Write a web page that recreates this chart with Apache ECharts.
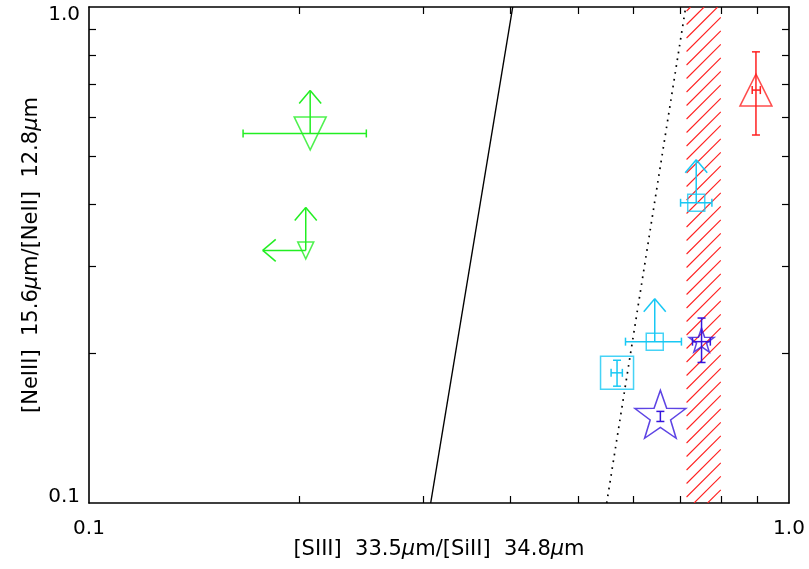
<!DOCTYPE html>
<html>
<head>
<meta charset="utf-8">
<script src="https://cdn.jsdelivr.net/npm/echarts@6/dist/echarts.min.js"></script>
<style>
  html, body { margin: 0; padding: 0; background: #ffffff; }
  #chart { width: 809px; height: 569px; }
</style>
</head>
<body>
<div id="chart"></div>
<script>
// ---- Axis ranges and ticks (log-log) ----
const axisMin = 0.1;
const axisMax = 1.0;
const tickLabelValues = [0.1, 1.0];
const minorTickValues = [0.2, 0.3, 0.4, 0.5, 0.6, 0.7, 0.8, 0.9];

// ---- Line ratios of each object ----
const objX   = [0.207, 0.204, 0.737, 0.643, 0.750, 0.568, 0.655, 0.897];
const objY   = [0.556, 0.323, 0.403, 0.2115, 0.2115, 0.183, 0.149, 0.680];
const objXLo = [0.166, null, 0.700, 0.584, 0.728, 0.557, null, 0.886];
const objXHi = [0.249, null, 0.776, 0.702, 0.772, 0.578, null, 0.910];
const objYLo = [null, null, null, null, 0.192, 0.172, 0.146, 0.552];
const objYHi = [null, null, null, null, 0.236, 0.194, 0.153, 0.812];
// lower limits in y (arrow up) and upper limits in x (arrow left)
const objLimitUp   = [true, true, true, true, false, false, false, false];
const objLimitLeft = [false, true, false, false, false, false, false, false];

// ---- Model curves ----
const solidLineX  = [0.3077, 0.403];
const solidLineY  = [0.1, 1.0];
const dottedLineX = [0.549, 0.712];
const dottedLineY = [0.1, 1.0];

// ---- Hatched range in x ----
const bandX = [0.714, 0.799];

// ---- Styling ----
const GREEN = '#22ee22';
const CYAN  = '#18c8f4';
const BLUE  = '#3515dd';
const RED   = '#ff2020';
const FONT  = 'DejaVu Sans';

// five-pointed star outline
function starPath() {
  const pts = [];
  for (let k = 0; k < 10; k++) {
    const r = (k % 2 === 0) ? 1 : 0.40;
    const a = -Math.PI / 2 + k * Math.PI / 5;
    pts.push((r * Math.cos(a)).toFixed(4) + ' ' + (r * Math.sin(a)).toFixed(4));
  }
  return 'path://M' + pts.join(' L') + ' Z';
}
const STAR = starPath();

const objStyle = [
  { symbol: 'triangle', size: [32, 33], rotate: 180, color: GREEN },
  { symbol: 'triangle', size: [16, 17], rotate: 180, color: GREEN },
  { symbol: 'rect', size: [17, 17], color: CYAN },
  { symbol: 'rect', size: [17, 17], color: CYAN },
  { symbol: STAR, size: [25, 24], color: BLUE, offset: [0, '-6%'] },
  { symbol: 'rect', size: [33, 33], color: CYAN },
  { symbol: STAR, size: [51, 48], color: BLUE, offset: [0, '-6%'] },
  { symbol: 'triangle', size: [32, 32], color: RED }
];

const CAP = 4;        // half length of error-bar caps
const ARROW = 43;     // limit arrow length
const WING_W = 11;    // arrow head half width
const WING_H = 13;    // arrow head depth
const HATCH = 13.5;   // hatch spacing

function seg(x1, y1, x2, y2, color, w) {
  return { type: 'line', shape: { x1, y1, x2, y2 }, style: { stroke: color, lineWidth: w } };
}

function renderErrors(params, api) {
  const i = params.dataIndex;
  const c = objStyle[i].color;
  const p = api.coord([objX[i], objY[i]]);
  const out = [];
  if (objXLo[i] != null) {
    const a = api.coord([objXLo[i], objY[i]])[0];
    const b = api.coord([objXHi[i], objY[i]])[0];
    out.push(seg(a, p[1], b, p[1], c, 1.5));
    out.push(seg(a, p[1] - CAP, a, p[1] + CAP, c, 1.5));
    out.push(seg(b, p[1] - CAP, b, p[1] + CAP, c, 1.5));
  }
  if (objYLo[i] != null) {
    const a = api.coord([objX[i], objYLo[i]])[1];
    const b = api.coord([objX[i], objYHi[i]])[1];
    out.push(seg(p[0], a, p[0], b, c, 1.5));
    out.push(seg(p[0] - CAP, a, p[0] + CAP, a, c, 1.5));
    out.push(seg(p[0] - CAP, b, p[0] + CAP, b, c, 1.5));
  }
  if (objLimitUp[i]) {
    const t = p[1] - ARROW;
    out.push(seg(p[0], p[1], p[0], t, c, 1.5));
    out.push(seg(p[0] - WING_W, t + WING_H, p[0], t, c, 1.5));
    out.push(seg(p[0] + WING_W, t + WING_H, p[0], t, c, 1.5));
  }
  if (objLimitLeft[i]) {
    const l = p[0] - ARROW;
    out.push(seg(p[0], p[1], l, p[1], c, 1.5));
    out.push(seg(l + WING_H, p[1] - WING_W, l, p[1], c, 1.5));
    out.push(seg(l + WING_H, p[1] + WING_W, l, p[1], c, 1.5));
  }
  return { type: 'group', children: out };
}

function renderBand(params, api) {
  const tl = api.coord([bandX[0], axisMax]);
  const br = api.coord([bandX[1], axisMin]);
  const x0 = tl[0], y0 = tl[1], x1 = br[0], y1 = br[1];
  const out = [];
  // lines y = c - x, running lower-left to upper-right
  for (let c = x0 + y0 + 4; c <= x1 + y1; c += HATCH) {
    const xa = Math.max(x0, c - y1);
    const xb = Math.min(x1, c - y0);
    if (xb > xa) out.push(seg(xa, c - xa, xb, c - xb, RED, 1.1));
  }
  return { type: 'group', children: out };
}

function frameAxis(position, extra) {
  return Object.assign({
    type: 'log',
    logBase: 10,
    min: axisMin,
    max: axisMax,
    position: position,
    axisLine: { show: true, onZero: false, lineStyle: { color: '#000', width: 1.6 } },
    axisTick: {
      show: true, inside: true, length: 7,
      customValues: minorTickValues,
      lineStyle: { color: '#000', width: 1.2 }
    },
    axisLabel: { show: false },
    splitLine: { show: false },
    minorTick: { show: false },
    minorSplitLine: { show: false }
  }, extra || {});
}

const richMu = { i: { fontStyle: 'italic', fontFamily: FONT, fontSize: 21, color: '#000' } };
const fmtTick = v => Number(v).toFixed(1);

const markerData = objX.map((x, i) => {
  const s = objStyle[i];
  return {
    value: [x, objY[i]],
    symbol: s.symbol,
    symbolSize: s.size,
    symbolRotate: s.rotate || 0,
    symbolOffset: s.offset || [0, 0],
    itemStyle: { color: 'rgba(0,0,0,0)', borderColor: s.color, borderWidth: 1.5 }
  };
});

const chart = echarts.init(document.getElementById('chart'), null, { renderer: 'canvas' });
chart.setOption({
  animation: false,
  backgroundColor: '#ffffff',
  grid: { left: 89, right: 20, top: 7, bottom: 66, containLabel: false, outerBoundsMode: 'none' },
  xAxis: [
    frameAxis('bottom', {
      name: '[SIII]  33.5{i|μ}m/[SiII]  34.8{i|μ}m',
      nameLocation: 'middle',
      nameGap: 36,
      nameMoveOverlap: false,
      nameTextStyle: { color: '#000', fontFamily: FONT, fontSize: 21, rich: richMu },
      axisLabel: {
        show: true, customValues: tickLabelValues,
        formatter: fmtTick,
        color: '#000', fontFamily: FONT, fontSize: 20, margin: 16
      }
    }),
    frameAxis('top')
  ],
  yAxis: [
    frameAxis('left', {
      name: '[NeIII]  15.6{i|μ}m/[NeII]  12.8{i|μ}m',
      nameLocation: 'middle',
      nameGap: 47,
      nameRotate: 90,
      nameMoveOverlap: false,
      nameTextStyle: { color: '#000', fontFamily: FONT, fontSize: 21, rich: richMu },
      axisLabel: {
        show: true, customValues: tickLabelValues,
        formatter: v => (v < 0.5 ? '{lo|' : '{hi|') + fmtTick(v) + '}',
        color: '#000', fontFamily: FONT, fontSize: 20, margin: 9,
        verticalAlign: 'middle',
        rich: {
          lo: { fontFamily: FONT, fontSize: 20, color: '#000', padding: [0, 0, 12, 0] },
          hi: { fontFamily: FONT, fontSize: 20, color: '#000', padding: [16, 0, 0, 0] }
        }
      }
    }),
    frameAxis('right')
  ],
  series: [
    {
      type: 'custom', name: 'band', silent: true, clip: true,
      xAxisIndex: 0, yAxisIndex: 0,
      renderItem: renderBand,
      data: [[bandX[0], axisMax]]
    },
    {
      type: 'line', name: 'solid', silent: true, showSymbol: false, symbol: 'none',
      xAxisIndex: 0, yAxisIndex: 0, clip: true,
      lineStyle: { color: '#000', width: 1.4 },
      data: solidLineX.map((x, i) => [x, solidLineY[i]])
    },
    {
      type: 'line', name: 'dotted', silent: true, showSymbol: false, symbol: 'none',
      xAxisIndex: 0, yAxisIndex: 0, clip: true,
      lineStyle: { color: '#000', width: 1.7, type: [1.7, 5.2] },
      data: dottedLineX.map((x, i) => [x, dottedLineY[i]])
    },
    {
      type: 'scatter', name: 'objects', silent: true,
      xAxisIndex: 0, yAxisIndex: 0,
      data: markerData
    },
    {
      type: 'custom', name: 'errors', silent: true, clip: false,
      xAxisIndex: 0, yAxisIndex: 0,
      renderItem: renderErrors,
      data: objX.map((x, i) => [x, objY[i]])
    }
  ]
});
</script>
</body>
</html>
